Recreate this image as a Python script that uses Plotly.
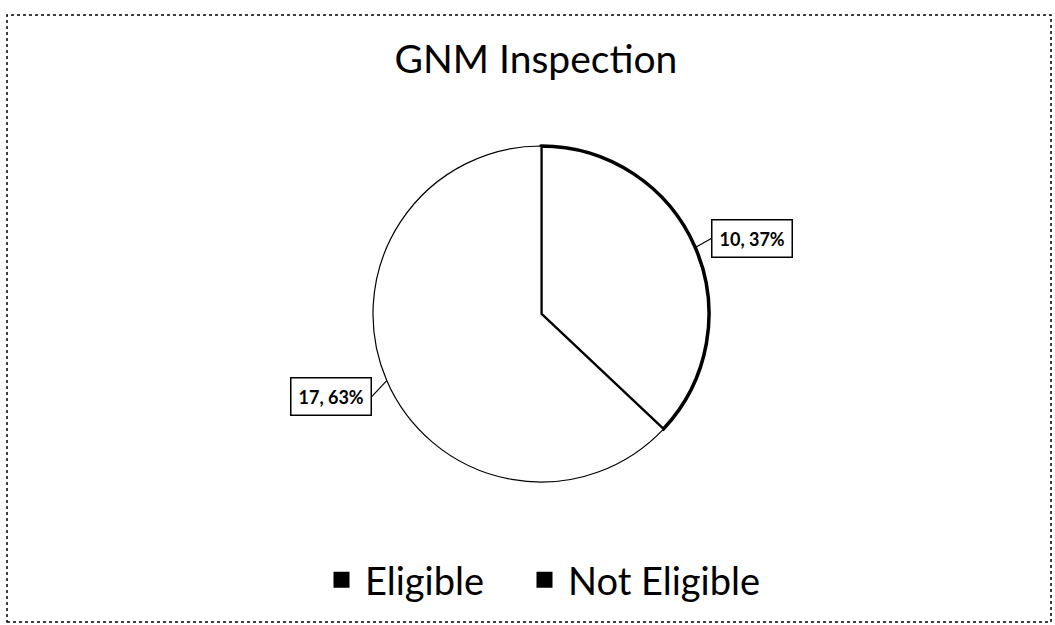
import math
import plotly.graph_objects as go

# ---- data ----
categories = ["Eligible", "Not Eligible"]
values = [10, 17]
title_text = "GNM Inspection"

W, H = 1055, 625
FONT = "Lato, Carlito, 'Open Sans', sans-serif"

# pie placement (pixels)
cx, cy, r = 541, 314, 168
dom_x = [(cx - r) / W, (cx + r) / W]
dom_y = [(H - cy - r) / H, (H - cy + r) / H]

total = sum(values)
pcts = [round(v * 100 / total) for v in values]

fig = go.Figure()
fig.add_trace(go.Pie(
    labels=categories,
    values=values,
    sort=False,
    direction="clockwise",
    rotation=0,
    textinfo="none",
    hoverinfo="label+value+percent",
    marker=dict(colors=["white", "white"],
                line=dict(color="black", width=[3.5, 1.2])),
    domain=dict(x=dom_x, y=dom_y),
    showlegend=False,
))

# legend entries (black squares as in the scan), one legend per entry
legend_ids = ["legend", "legend2"]
legend_left_px = [318, 521]
for c, lid in zip(categories, legend_ids):
    fig.add_trace(go.Scatter(
        x=[None], y=[None], mode="markers", name=c,
        marker=dict(symbol="square", size=18, color="black"),
        showlegend=True, legend=lid,
    ))

# data-label callouts computed from slice mid-angles
offsets = [(16, -9), (-15, 16)]
cum = 0
annotations = []
for i, v in enumerate(values):
    mid = (cum + v / 2) / total * 2 * math.pi  # clockwise from 12 o'clock
    cum += v
    px = cx + r * math.sin(mid)
    py = cy - r * math.cos(mid)
    annotations.append(dict(
        x=px / W, y=1 - py / H, xref="paper", yref="paper",
        text=f"<b>{v}, {pcts[i]}%</b>",
        showarrow=True, arrowhead=0, arrowwidth=1.2, arrowcolor="black",
        ax=offsets[i][0], ay=offsets[i][1],
        xanchor="left" if offsets[i][0] > 0 else "right",
        font=dict(family=FONT, size=18, color="black"),
        bordercolor="black", borderwidth=1.5, borderpad=7, bgcolor="white",
    ))

legend_style = dict(orientation="h", yanchor="middle", y=1 - 580 / H,
                    xanchor="left",
                    font=dict(family=FONT, size=38, color="black"),
                    itemwidth=37, bgcolor="rgba(0,0,0,0)")

fig.update_layout(
    width=W, height=H,
    margin=dict(l=0, r=0, t=0, b=0),
    paper_bgcolor="white", plot_bgcolor="white",
    title=dict(text=title_text, x=0.508, xanchor="center",
               y=1 - 59 / H, yanchor="middle",
               font=dict(family=FONT, size=39, color="black")),
    legend=dict(x=legend_left_px[0] / W, **legend_style),
    legend2=dict(x=legend_left_px[1] / W, **legend_style),
    xaxis=dict(visible=False), yaxis=dict(visible=False),
    annotations=annotations,
    shapes=[dict(type="rect", xref="paper", yref="paper",
                 x0=7 / W, x1=1051 / W, y0=1 - 622 / H, y1=1 - 15 / H,
                 line=dict(color="black", width=1.5, dash="dot"))],
)

fig.write_html("out.html", config={"displayModeBar": False},
               post_script="document.body.style.margin='0';document.body.style.overflow='hidden';")
